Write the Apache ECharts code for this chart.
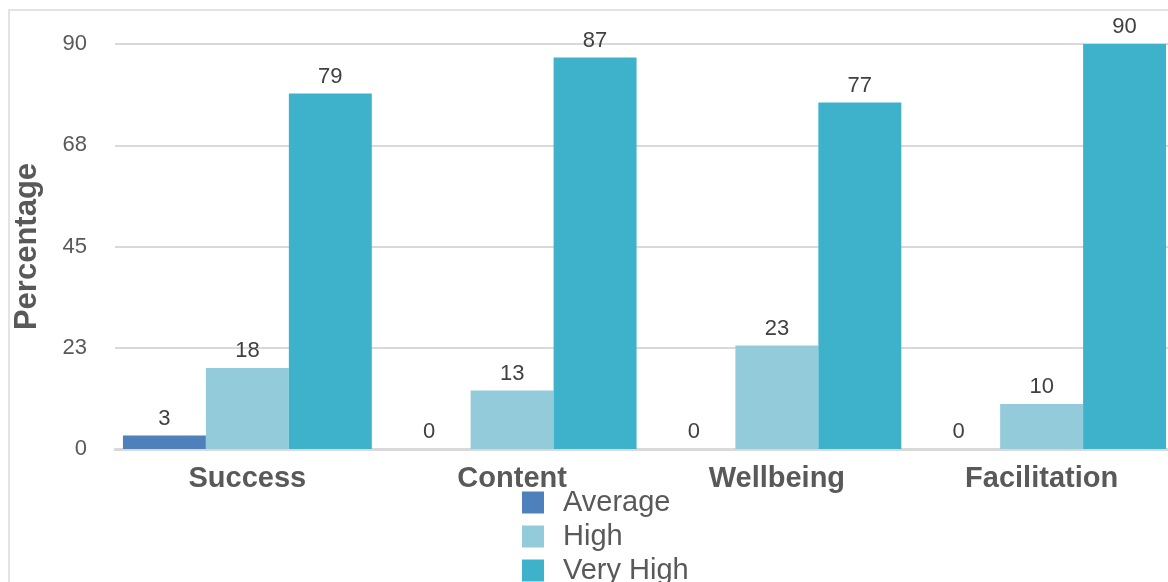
<!DOCTYPE html>
<html><head><meta charset="utf-8">
<script src="https://cdn.jsdelivr.net/npm/echarts@6/dist/echarts.min.js"></script>
<style>html,body{margin:0;padding:0;background:#fff;overflow:hidden;width:1168px;height:582px}#c{width:1200px;height:582px}</style>
</head><body><div id="c"></div>
<script>
const categories = ['Success', 'Content', 'Wellbeing', 'Facilitation'];
const seriesNames = ['Average', 'High', 'Very High'];
const average = [3, 0, 0, 0];
const high = [18, 13, 23, 10];
const veryHigh = [79, 87, 77, 90];
const colors = ['#4e80bc', '#94cbdb', '#3eb2cb'];

const font = '"Liberation Sans", Arial, Helvetica, sans-serif';
const chart = echarts.init(document.getElementById('c'));
const mk = (name, data, color) => ({
  name, type: 'bar', data, barGap: '0%', barCategoryGap: '6%',
  itemStyle: { color },
  label: { show: true, position: 'top', distance: 6, color: '#404040', fontSize: 22, fontFamily: font },
  animation: false
});
const legendTops = [488, 522, 556];
chart.setOption({
  animation: false,
  textStyle: { fontFamily: font },
  graphic: [{ type: 'rect', shape: { x: 9, y: 10, width: 1300, height: 700 }, style: { fill: 'none', stroke: '#e3e3e3', lineWidth: 2 }, z: -10 }],
  grid: { left: 115, top: 44, width: 1059, height: 405, containLabel: false },
  legend: seriesNames.map((n, i) => ({
    orient: 'vertical', left: 522, top: legendTops[i], padding: 0, itemWidth: 22, itemHeight: 22,
    icon: 'rect', selectedMode: false,
    textStyle: { fontSize: 29, color: '#595959', fontFamily: font, padding: [0, 0, 0, 14] },
    data: [n]
  })),
  xAxis: {
    type: 'category', data: categories,
    axisLine: { lineStyle: { color: '#d9d9d9', width: 3 } },
    axisTick: { show: false },
    axisLabel: { color: '#595959', fontSize: 29, fontWeight: 'bold', margin: 15, fontFamily: font }
  },
  yAxis: {
    type: 'value', min: 0, max: 90, interval: 22.5,
    name: 'Percentage', nameLocation: 'middle', nameGap: 72, nameRotate: 90,
    nameTextStyle: { fontSize: 31, fontWeight: 'bold', color: '#595959', fontFamily: font },
    axisLine: { show: false }, axisTick: { show: false },
    axisLabel: { color: '#595959', fontSize: 22, margin: 28, fontFamily: font, formatter: v => Math.round(v) },
    splitLine: { lineStyle: { color: '#d9d9d9', width: 2 } }
  },
  series: [mk(seriesNames[0], average, colors[0]), mk(seriesNames[1], high, colors[1]), mk(seriesNames[2], veryHigh, colors[2])]
});
</script></body></html>
